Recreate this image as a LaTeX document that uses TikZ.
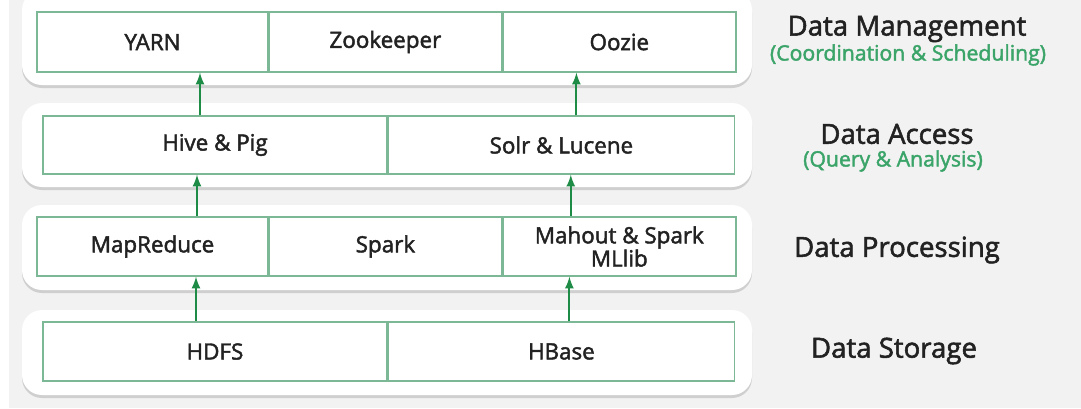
\documentclass[tikz,border=0pt]{standalone}
\usepackage{fontspec}
\setmainfont{Open Sans}
\newfontfamily\medfont{Open Sans}[FakeBold=2]
\usepackage{tikz}
\usetikzlibrary{positioning,shadows}
\pgfdeclarelayer{background layer}
\pgfsetlayers{background layer,main}
\definecolor{bkg}{rgb}{0.95,0.95,0.95}
\definecolor{cellgreen}{HTML}{7DB896}
\definecolor{arrgreen}{HTML}{1E8C46}
\definecolor{subgreen}{HTML}{3BA469}
\definecolor{txt}{HTML}{222222}

\begin{document}
\begin{tikzpicture}[x=0.5pt,y=-0.5pt]
\tikzstyle{cell}=[draw=cellgreen,line width=0.7pt,fill=white,inner sep=0pt,text=txt,font=\medfont\fontsize{11.2}{12}\selectfont]
\tikzstyle{panel}=[fill=white,rounded corners=10pt,drop shadow={opacity=0.3,shadow xshift=0pt,shadow yshift=-1.5pt}]
\tikzstyle{arrow}=[arrgreen,line width=1pt,-latex]
\tikzstyle{layer}=[text=txt,font=\medfont\fontsize{13.8}{15}\selectfont,inner sep=0pt]
\tikzstyle{sub}=[text=subgreen,font=\medfont\fontsize{10.6}{11}\selectfont,inner sep=0pt]
\useasboundingbox (0,0) rectangle (1081,408);
% top layer
\node [cell,minimum width=115.5pt,minimum height=30pt] at (152.5,42) (yarn) {YARN};
\node [cell,minimum width=116pt,minimum height=30pt,right=0pt of yarn] (zoo) {Zookeeper};
\node [cell,minimum width=116.5pt,minimum height=30pt,right=0pt of zoo] (oozie) {Oozie};
% access
\node [cell,minimum width=172pt,minimum height=29pt] at (215,145) (hive) {Hive \& Pig};
\node [cell,minimum width=173pt,minimum height=29pt,right=0pt of hive] (solr) {Solr \& Lucene};
% processing
\node [cell,minimum width=115.5pt,minimum height=29.5pt] at (152.5,246.5) (mapred) {MapReduce};
\node [cell,minimum width=116pt,minimum height=29.5pt,right=0pt of mapred] (spark) {Spark};
\node [cell,minimum width=116.5pt,minimum height=29.5pt,right=0pt of spark,align=center,
  font=\medfont\fontsize{11.2}{11.6}\selectfont] (mahout) {Mahout \& Spark\\MLlib};
% storage
\node [cell,minimum width=172pt,minimum height=29.5pt] at (215,351.5) (hdfs) {HDFS};
\node [cell,minimum width=173pt,minimum height=29.5pt,right=0pt of hdfs] (hbase) {HBase};
\draw [arrow] ([xshift=-7.5pt]hive.north) -- ([xshift=-7.5pt]hive.north |- yarn.south);
\draw [arrow] ([xshift=7.5pt]solr.north) -- ([xshift=7.5pt]solr.north |- oozie.south);
\draw [arrow] ([xshift=22.25pt]mapred.north) -- ([xshift=22.25pt]mapred.north |- hive.south);
\draw [arrow] ([xshift=-24.25pt]mahout.north) -- ([xshift=-24.25pt]mahout.north |- solr.south);
\draw [arrow] ([xshift=-9.5pt]hdfs.north) -- ([xshift=-9.5pt]hdfs.north |- mapred.south);
\draw [arrow] ([xshift=4pt]hbase.north) -- ([xshift=4pt]hbase.north |- mahout.south);
% labels
\node [layer] at (907,29) (mgmt) {Data Management};
\node [sub] at (908,55) (mgmtsub) {(Coordination \& Scheduling)};
\node [layer] at (897,134) (access) {Data Access};
\node [sub] at (893,161) (accesssub) {(Query \& Analysis)};
\node [layer] at (897,250) (proc) {Data Processing};
\node [layer] at (894,351) (stor) {Data Storage};
\begin{pgfonlayer}{background layer}
\fill [bkg] (9,0) rectangle (1081,408);
\fill [panel] (22,-10) rectangle (752,85);
\fill [panel] (22,103) rectangle (752,187);
\fill [panel] (22,205) rectangle (752,290);
\fill [panel] (22,310) rectangle (752,395);
\end{pgfonlayer}
\end{tikzpicture}
\end{document}
